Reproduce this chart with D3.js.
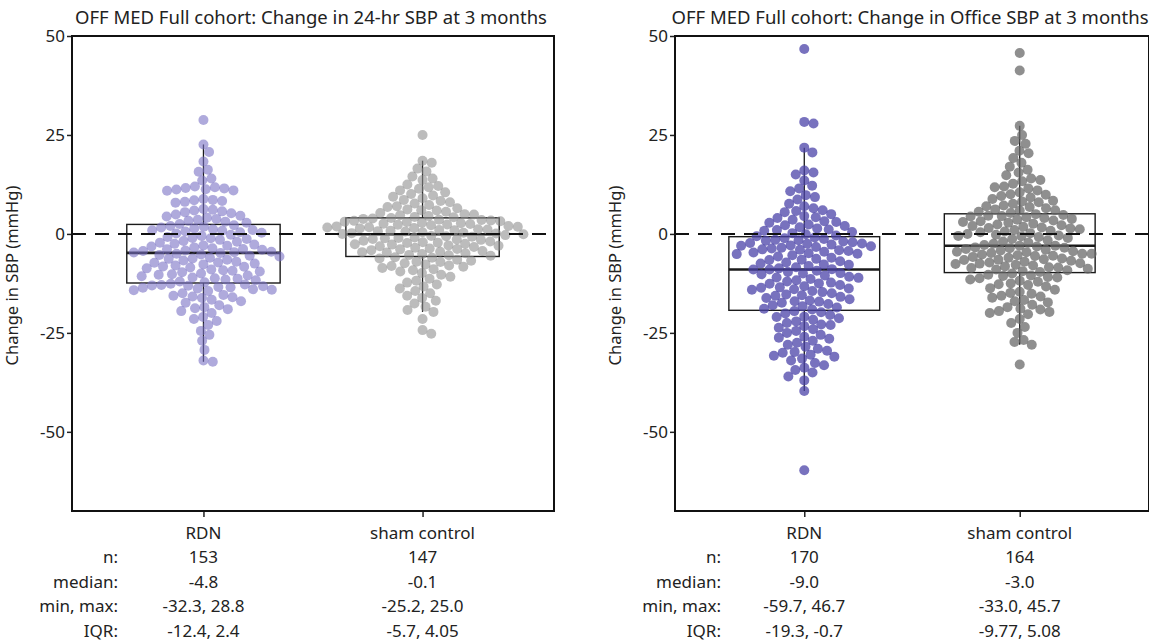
<!DOCTYPE html>
<html>
<head>
<meta charset="utf-8">
<script src="https://cdn.jsdelivr.net/npm/d3@7"></script>
<style>
    body { margin: 0; background: #fff; }
    text { font-family: "Noto Sans", sans-serif; fill: #222; }
</style>
</head>
<body>
<svg id="chart" width="1149" height="643"></svg>
<script>
// Groups and titles
const groups = ['RDN', 'sham control'];
const titles = [
    'OFF MED Full cohort: Change in 24-hr SBP at 3 months',
    'OFF MED Full cohort: Change in Office SBP at 3 months'
];
const yTicks = [50, 25, 0, -25, -50];
const statLabels = ['n:', 'median:', 'min, max:', 'IQR:'];

// Change in 24-hr SBP (mmHg)
const rdn24hr = [
    28.8, 22.6, 20.7, 18.3, 16.2, 15.7, 14.0, 13.5,
    12.0, 11.8, 11.6, 11.5, 11.3, 11.2, 11.0, 10.9,
    8.8, 8.6, 8.5, 8.3, 8.1, 7.9,
    6.3, 6.1, 5.9, 5.7, 5.5, 5.2,
    4.9, 4.6, 4.4, 4.1, 3.8, 3.6, 3.3, 3.1, 2.8, 2.5,
    2.2, 2.0, 1.8, 1.6, 1.4, 1.2, 1.0, 0.8, 0.6, 0.4, 0.3, 0.1,
    -0.2, -0.5, -0.8, -1.0, -1.3, -1.5, -1.8, -2.0, -2.2, -2.5, -2.7, -3.0, -3.2,
    -3.4, -3.6, -3.8, -4.0, -4.2, -4.3, -4.5, -4.6, -4.7, -2.9, -1.1, 0.9, -3.9,
    -4.8,
    -5.0, -5.2, -5.5, -5.7, -6.0, -6.2, -6.5, -6.7, -7.0, -7.2, -7.5, -7.7,
    -8.0, -8.2, -8.5, -8.7, -9.0, -9.2, -9.5, -9.7, -10.0, -10.2, -10.5, -10.7,
    -11.0, -11.2, -11.5, -11.7, -12.0, -12.2, -5.3, -6.3, -7.3, -8.3, -9.3, -10.3, -11.3,
    -12.6, -12.8, -13.0, -13.2, -13.4, -13.6, -13.8, -14.0, -14.2, -14.4, -13.1, -13.5, -12.9, -14.1,
    -15.0, -15.4, -15.8, -16.2, -16.6, -17.0, -17.4, -15.6, -16.0,
    -18.0, -18.5, -19.0, -19.5, -20.0, -18.8,
    -21.0, -21.5, -22.0, -23.0,
    -24.5, -25.5, -27.0, -29.3, -32.0, -32.3
];
const sham24hr = [
    25.0, 18.5, 18.0, 16.5, 15.8, 14.5, 14.0, 13.6, 12.5, 12.1,
    11.8, 11.4, 10.5, 10.1, 9.7, 9.4, 8.6, 8.3, 8.0, 7.7,
    7.3, 6.8, 6.5, 6.2, 5.9, 5.6, 5.3, 5.0, 4.9, 4.7,
    4.5, 4.3, 4.2, 6.0, 7.0, 9.0, 11.0,
    4.0, 3.8, 3.6, 3.4, 3.2, 3.0, 2.8, 2.6, 2.4, 2.2,
    2.0, 1.8, 1.6, 1.4, 1.2, 1.0, 0.8, 0.6, 0.4, 0.2,
    0.0, 3.9, 3.5, 3.1, 2.7, 2.3, 1.9, 1.5, 1.1, 0.7,
    0.3, 3.3, 2.5, 1.7, 0.9, 0.1,
    -0.1,
    -0.3, -0.5, -0.7, -0.9, -1.1, -1.3, -1.5, -1.7, -1.9, -2.1,
    -2.3, -2.5, -2.7, -2.9, -3.1, -3.3, -3.5, -3.7, -3.9, -4.1,
    -4.3, -4.5, -4.7, -4.9, -5.1, -5.3, -5.5, -0.6, -1.4, -2.2,
    -3.0, -3.8, -4.6, -5.4, -1.0, -2.6,
    -5.9, -6.2, -6.5, -6.8, -7.1, -7.4, -7.7, -8.0, -8.3, -8.6,
    -8.9, -9.2, -6.0, -7.0, -8.1, -9.5, -9.9, -10.3, -10.8, -11.3,
    -11.8, -12.3, -12.8, -13.3, -13.8, -14.4, -15.0, -15.6, -16.2, -16.9,
    -17.6, -18.4, -19.2, -19.7, -21.5, -24.3, -25.2
];

// Change in Office SBP (mmHg)
const rdnOffice = [
    46.7, 28.3, 27.9, 21.8, 20.6, 16.0, 15.5, 15.0, 13.5, 12.2,
    11.5, 10.8, 9.8, 9.3, 8.7, 7.6, 7.0, 6.5, 6.0, 5.5,
    5.0, 4.5, 4.0, 3.6, 3.2, 2.8, 2.4, 2.0, 1.7, 1.4,
    1.1, 0.8, 0.5, 0.2, -0.1, -0.4, -0.6, 3.0, 1.0, 5.8,
    4.2, 2.2,
    -0.9, -1.1, -1.3, -1.5, -1.7, -1.9, -2.1, -2.3, -2.5, -2.7,
    -2.9, -3.1, -3.3, -3.5, -3.7, -3.9, -4.1, -4.3, -4.5, -4.7,
    -4.9, -5.1, -5.4, -5.7, -6.0, -6.3, -6.6, -6.9, -7.2, -7.5,
    -7.8, -8.1, -8.4, -8.7, -8.9, -1.6, -2.4, -3.0, -4.0, -5.0,
    -6.5, -7.7,
    -9.0, -9.0,
    -9.3, -9.6, -9.9, -10.2, -10.5, -10.8, -11.1, -11.4, -11.7, -12.0,
    -12.3, -12.6, -12.9, -13.2, -13.5, -13.8, -14.1, -14.4, -14.7, -15.0,
    -15.3, -15.6, -15.9, -16.2, -16.5, -16.8, -17.1, -17.4, -17.7, -18.0,
    -18.3, -18.6, -18.9, -19.1, -10.0, -11.0, -12.5, -13.6, -15.5, -17.0,
    -14.0,
    -19.5, -19.8, -20.1, -20.5, -20.9, -21.3, -21.7, -22.1, -22.5, -22.9,
    -23.3, -23.7, -24.1, -24.5, -25.0, -25.5, -26.0, -26.5, -27.0, -27.5,
    -28.0, -28.5, -29.0, -29.5, -30.0, -30.5, -31.0, -31.5, -32.0, -32.6,
    -33.2, -33.8, -34.4, -35.0, -36.0, -37.0, -21.0, -23.0, -26.2, -29.8,
    -30.8, -39.7, -59.7
];
const shamOffice = [
    45.7, 41.3, 27.3, 25.0, 23.5, 22.8, 21.0, 20.4, 19.2, 17.0,
    16.2, 15.5, 14.8, 14.0, 13.3, 12.7, 12.0, 11.5, 11.0, 10.5,
    10.0, 9.6, 9.2, 8.8, 8.4, 8.0, 7.6, 7.2, 6.8, 6.5,
    6.2, 5.9, 5.6, 5.3, 13.6, 11.8, 9.9, 8.2, 7.0, 6.0,
    18.0,
    5.0, 4.8, 4.6, 4.4, 4.2, 4.0, 3.8, 3.6, 3.4, 3.2,
    3.0, 2.8, 2.6, 2.4, 2.2, 2.0, 1.8, 1.6, 1.4, 1.2,
    1.0, 0.8, 0.6, 0.4, 0.2, 0.0, -0.2, -0.4, -0.6, -0.8,
    -1.0, -1.3, -1.6, -1.9, -2.2, -2.5, -2.8, 4.5, 1.5, -0.5,
    -3.0, -3.0,
    -3.2, -3.4, -3.6, -3.8, -4.0, -4.2, -4.4, -4.6, -4.8, -5.0,
    -5.2, -5.4, -5.6, -5.8, -6.0, -6.2, -6.4, -6.6, -6.8, -7.0,
    -7.2, -7.4, -7.6, -7.8, -8.0, -8.2, -8.4, -8.6, -8.8, -9.0,
    -9.2, -9.4, -9.6, -3.5, -4.5, -5.5, -6.5, -7.5, -8.5, -5.0,
    -10.0, -10.3, -10.6, -10.9, -11.2, -11.5, -11.8, -12.1, -12.5, -12.9,
    -13.3, -13.7, -14.1, -14.6, -15.1, -15.6, -16.1, -16.7, -17.3, -17.9,
    -18.5, -19.1, -19.7, -20.3, -11.0, -12.7, -14.9, -17.0, -18.9, -20.0,
    -21.5, -22.5, -23.5, -25.0, -26.8, -27.3, -28.0, -19.5, -15.8, -33.0,
    -10.5
];

// Summary statistics as reported
const medians24hr = [-4.8, -0.1];
const quartiles24hr = [[-12.4, 2.4], [-5.7, 4.05]];
const medianText24hr = ['-4.8', '-0.1'];
const rangeText24hr = ['-32.3, 28.8', '-25.2, 25.0'];
const iqrText24hr = ['-12.4, 2.4', '-5.7, 4.05'];

const mediansOffice = [-9.0, -3.0];
const quartilesOffice = [[-19.3, -0.7], [-9.77, 5.08]];
const medianTextOffice = ['-9.0', '-3.0'];
const rangeTextOffice = ['-59.7, 46.7', '-33.0, 45.7'];
const iqrTextOffice = ['-19.3, -0.7', '-9.77, 5.08'];

const panels = [
    {
        title: titles[0], left: 72, width: 482,
        data: [rdn24hr, sham24hr], medians: medians24hr, quartiles: quartiles24hr,
        rows: [[String(rdn24hr.length), String(sham24hr.length)], medianText24hr, rangeText24hr, iqrText24hr],
        fills: ['#7a72c4', '#909090'], opacity: 0.6
    },
    {
        title: titles[1], left: 675, width: 474,
        data: [rdnOffice, shamOffice], medians: mediansOffice, quartiles: quartilesOffice,
        rows: [[String(rdnOffice.length), String(shamOffice.length)], medianTextOffice, rangeTextOffice, iqrTextOffice],
        fills: ['#4b43a8', '#6a6a6a'], opacity: 0.75
    }
];

const plotTop = 36, plotBottom = 511;
const textSize = '17px';
const svg = d3.select('#chart');

/**
 * Simple beeswarm: place each point as close to the centre as it can go
 * without overlapping anything already placed.
 */
function swarm(values, y, d) {
    const pts = values.map(v => ({ v, y: y(v), x: 0 }))
        .sort((a, b) => a.y - b.y);
    const placed = [];
    pts.forEach(p => {
        const near = placed.filter(q => Math.abs(q.y - p.y) < d);
        const cands = [0];
        near.forEach(q => {
            const dx = Math.sqrt(d * d - (q.y - p.y) ** 2);
            cands.push(q.x + dx, q.x - dx);
        });
        cands.sort((a, b) => Math.abs(a) - Math.abs(b));
        for (const c of cands) {
            if (near.every(q => (q.x - c) ** 2 + (q.y - p.y) ** 2 >= d * d - 0.01)) {
                p.x = c;
                break;
            }
        }
        placed.push(p);
    });
    return pts;
}

panels.forEach(p => {
    const g = svg.append('g');
    const x = d3.scalePoint().domain(groups).range([p.left, p.left + p.width]).padding(0.6);
    const y = d3.scaleLinear().domain([-70, 50]).range([plotBottom, plotTop]);
    const boxW = x.step() * 0.7;

    // Title
    g.append('text')
        .attr('x', p.left + p.width / 2 - 2)
        .attr('y', 24)
        .attr('text-anchor', 'middle')
        .style('font-size', '18.5px')
        .text(p.title);

    // Y axis label
    g.append('text')
        .attr('transform', `translate(${p.left - 54},${(plotTop + plotBottom) / 2 + 2}) rotate(-90)`)
        .attr('text-anchor', 'middle')
        .style('font-size', '16.5px')
        .text('Change in SBP (mmHg)');

    // Y axis (plain hyphen for negatives, as in the original)
    const yAxis = g.append('g')
        .attr('transform', `translate(${p.left},0)`)
        .call(d3.axisLeft(y).tickValues(yTicks).tickSize(5).tickSizeOuter(0).tickFormat(d => String(d)));
    yAxis.select('.domain').remove();
    yAxis.selectAll('line').attr('stroke', '#222').attr('stroke-width', 1.5);
    yAxis.selectAll('text').style('font-size', textSize).attr('x', -7);

    // X ticks
    const xAxis = g.append('g')
        .attr('transform', `translate(0,${plotBottom})`)
        .call(d3.axisBottom(x).tickSize(6).tickFormat(''));
    xAxis.select('.domain').remove();
    xAxis.selectAll('line').attr('stroke', '#222').attr('stroke-width', 1.5);

    // Boxes and whiskers
    groups.forEach((grp, i) => {
        const vals = p.data[i];
        const [q1, q3] = p.quartiles[i];
        const iqr = q3 - q1;
        const hi = d3.max(vals.filter(v => v <= q3 + 1.5 * iqr));
        const lo = d3.min(vals.filter(v => v >= q1 - 1.5 * iqr));
        const cx = x(grp);
        const bg = g.append('g').attr('stroke', '#1a1a1a').attr('fill', 'none');
        bg.append('line').attr('x1', cx).attr('x2', cx).attr('y1', y(q3)).attr('y2', y(hi)).attr('stroke-width', 1.3);
        bg.append('line').attr('x1', cx).attr('x2', cx).attr('y1', y(q1)).attr('y2', y(lo)).attr('stroke-width', 1.3);
        bg.append('rect')
            .attr('x', cx - boxW / 2).attr('width', boxW)
            .attr('y', y(q3)).attr('height', y(q1) - y(q3))
            .attr('stroke-width', 1.4);
        bg.append('line')
            .attr('x1', cx - boxW / 2).attr('x2', cx + boxW / 2)
            .attr('y1', y(p.medians[i])).attr('y2', y(p.medians[i]))
            .attr('stroke-width', 2.6);
    });

    // Points
    groups.forEach((grp, i) => {
        const pts = swarm(p.data[i], y, 9.4);
        g.append('g').selectAll('circle')
            .data(pts)
            .join('circle')
            .attr('cx', d => x(grp) + d.x)
            .attr('cy', d => d.y)
            .attr('r', 5)
            .attr('fill', p.fills[i])
            .attr('fill-opacity', p.opacity);
    });

    // Zero reference line
    g.append('line')
        .attr('x1', p.left).attr('x2', p.left + p.width)
        .attr('y1', y(0)).attr('y2', y(0))
        .attr('stroke', '#111')
        .attr('stroke-width', 2)
        .attr('stroke-dasharray', '14,9');

    // Frame
    g.append('rect')
        .attr('x', p.left).attr('y', plotTop)
        .attr('width', p.width).attr('height', plotBottom - plotTop)
        .attr('fill', 'none')
        .attr('stroke', '#111')
        .attr('stroke-width', 2);

    // Category names and stats table
    groups.forEach(grp => {
        g.append('text')
            .attr('x', x(grp)).attr('y', 539)
            .attr('text-anchor', 'middle')
            .style('font-size', textSize)
            .text(grp);
    });
    statLabels.forEach((lab, r) => {
        const yy = 563 + r * 24.5;
        g.append('text')
            .attr('x', p.left + 46).attr('y', yy)
            .attr('text-anchor', 'end')
            .style('font-size', textSize)
            .text(lab);
        groups.forEach((grp, i) => {
            g.append('text')
                .attr('x', x(grp)).attr('y', yy)
                .attr('text-anchor', 'middle')
                .style('font-size', textSize)
                .text(p.rows[r][i]);
        });
    });
});
</script>
</body>
</html>
